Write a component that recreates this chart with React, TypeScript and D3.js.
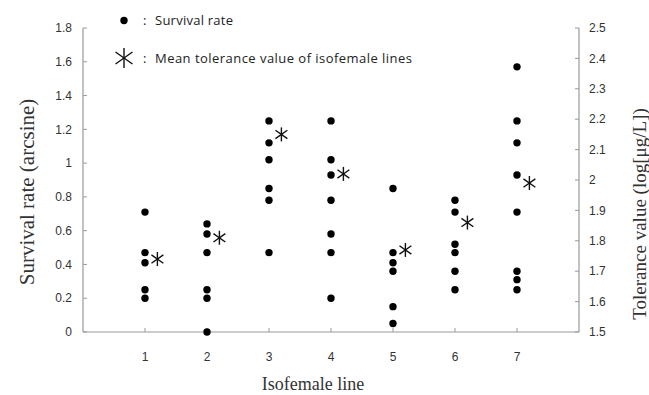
import React from "react";
import * as d3 from "d3";

const categories = [1, 2, 3, 4, 5, 6, 7];
const survival: number[][] = [
  [0.71, 0.47, 0.41, 0.25, 0.2],
  [0.64, 0.58, 0.47, 0.25, 0.2, 0.0],
  [1.25, 1.12, 1.02, 0.85, 0.78, 0.47],
  [1.25, 1.02, 0.93, 0.78, 0.58, 0.47, 0.2],
  [0.85, 0.47, 0.41, 0.36, 0.15, 0.05],
  [0.78, 0.71, 0.52, 0.47, 0.36, 0.25],
  [1.57, 1.25, 1.12, 0.93, 0.71, 0.36, 0.31, 0.25],
];
const tolerance = [1.74, 1.81, 2.15, 2.02, 1.77, 1.86, 1.99];
const leftTicks = [0, 0.2, 0.4, 0.6, 0.8, 1, 1.2, 1.4, 1.6, 1.8];
const rightTicks = [1.5, 1.6, 1.7, 1.8, 1.9, 2, 2.1, 2.2, 2.3, 2.4, 2.5];

const W = 649, H = 395;
const L = 83, R = 579, T = 28, B = 332;

function Asterisk({ x, y, s }: { x: number; y: number; s: number }) {
  const dx = s * 0.85, dy = s * 0.6;
  return (
    <g stroke="#111" strokeWidth={1.4}>
      <line x1={x} y1={y - s} x2={x} y2={y + s} />
      <line x1={x - dx} y1={y - dy} x2={x + dx} y2={y + dy} />
      <line x1={x - dx} y1={y + dy} x2={x + dx} y2={y - dy} />
    </g>
  );
}

export default function App() {
  const x = d3.scaleLinear().domain([0, 8]).range([L, R]);
  const yL = d3.scaleLinear().domain([0, 1.8]).range([B, T]);
  const yR = d3.scaleLinear().domain([1.5, 2.5]).range([B, T]);
  const tickFont = "Liberation Sans, Arial, sans-serif";
  const serif = "Liberation Serif, Times New Roman, serif";
  return (
    <svg width={W} height={H} style={{ position: "absolute", left: 0, top: 0, background: "#fff" }}>
      <line x1={L} y1={T} x2={L} y2={B} stroke="#999" strokeWidth={1.2} />
      <line x1={R} y1={T} x2={R} y2={B} stroke="#999" strokeWidth={1.2} />
      <line x1={L} y1={B} x2={R} y2={B} stroke="#999" strokeWidth={1.2} />
      {leftTicks.map((t) => (
        <g key={"l" + t}>
          <line x1={L} x2={L + 4} y1={yL(t)} y2={yL(t)} stroke="#999" />
          <text x={72} y={yL(t)} dy="0.35em" textAnchor="end" fontSize={12} fontFamily={tickFont} fill="#333">
            {t}
          </text>
        </g>
      ))}
      {rightTicks.map((t) => (
        <g key={"r" + t}>
          <line x1={R - 4} x2={R} y1={yR(t)} y2={yR(t)} stroke="#999" />
          <text x={589} y={yR(t)} dy="0.35em" textAnchor="start" fontSize={12} fontFamily={tickFont} fill="#333">
            {t}
          </text>
        </g>
      ))}
      {categories.map((c) => (
        <g key={"x" + c}>
          <line x1={x(c)} x2={x(c)} y1={B} y2={B - 4} stroke="#999" />
          <text x={x(c)} y={357} dy="0.35em" textAnchor="middle" fontSize={12} fontFamily={tickFont} fill="#333">
            {c}
          </text>
        </g>
      ))}
      {categories.map((c, i) =>
        survival[i].map((v, j) => <circle key={c + "-" + j} cx={x(c)} cy={yL(v)} r={3.7} fill="#000" />)
      )}
      {categories.map((c, i) => (
        <Asterisk key={"a" + c} x={x(c + 0.2)} y={yR(tolerance[i])} s={7} />
      ))}
      {/* legend */}
      <circle cx={124} cy={20.5} r={3.7} fill="#000" />
      <text x={143} y={20.5} dy="0.35em" fontSize={13} fontFamily="Open Sans, sans-serif" fill="#222">:</text>
      <text x={155} y={20.5} dy="0.35em" fontSize={13} fontFamily="Open Sans, sans-serif" fill="#222" textLength={78} lengthAdjust="spacing">
        Survival rate
      </text>
      <Asterisk x={124} y={58} s={10} />
      <text x={143} y={58} dy="0.35em" fontSize={13} fontFamily="Open Sans, sans-serif" fill="#222">:</text>
      <text x={155} y={58} dy="0.35em" fontSize={13} fontFamily="Open Sans, sans-serif" fill="#222" textLength={257} lengthAdjust="spacing">
        Mean tolerance value of isofemale lines
      </text>
      {/* axis titles */}
      <text transform={`translate(27,192) rotate(-90)`} dy="0.35em" textAnchor="middle" fontSize={21} fontFamily={serif} fill="#333">
        Survival rate (arcsine)
      </text>
      <text transform={`translate(639,214) rotate(-90)`} dy="0.35em" textAnchor="middle" fontSize={19} fontFamily={serif} fill="#333">
        Tolerance value (log[μg/L])
      </text>
      <text x={313} y={384} dy="0.35em" textAnchor="middle" fontSize={18} fontFamily={serif} fill="#333">
        Isofemale line
      </text>
    </svg>
  );
}
